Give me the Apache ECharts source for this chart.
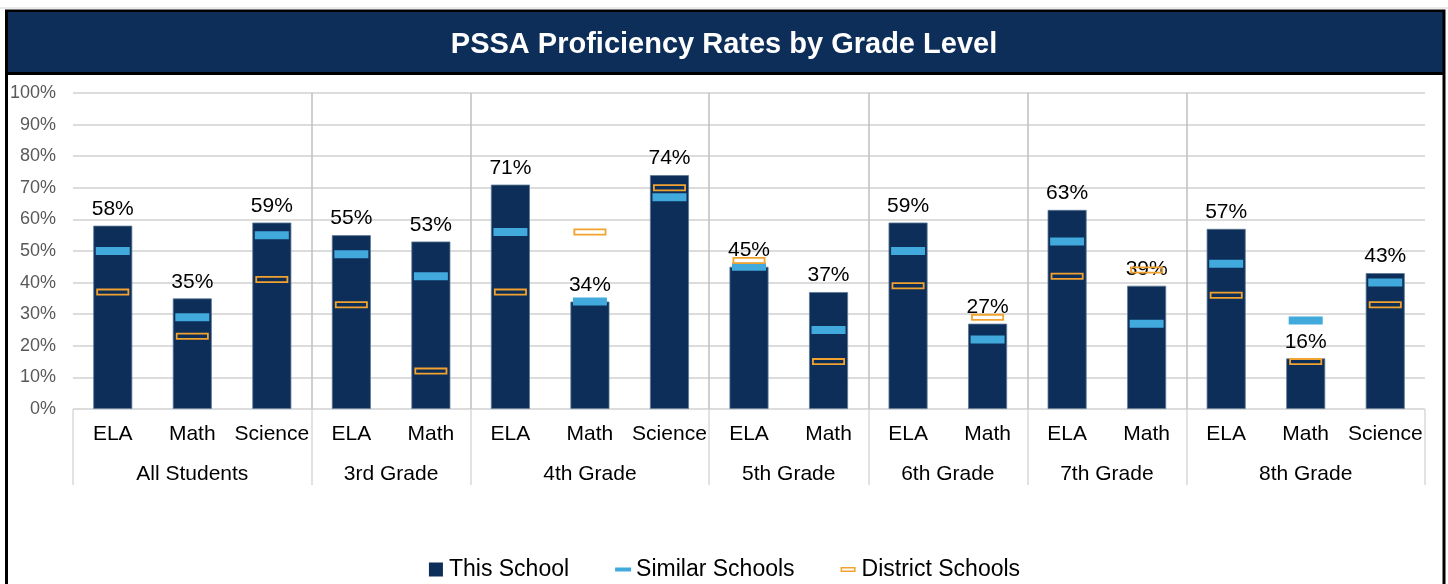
<!DOCTYPE html>
<html>
<head>
<meta charset="utf-8">
<script src="https://cdn.jsdelivr.net/npm/echarts@6/dist/echarts.min.js"></script>
<style>
  html, body { margin: 0; padding: 0; background: #fff; }
  #chart { width: 1448px; height: 584px; }
</style>
</head>
<body>
<div id="chart"></div>
<script>
// groups and the subjects under each one
const groups = ['All Students', '3rd Grade', '4th Grade', '5th Grade', '6th Grade', '7th Grade', '8th Grade'];
const groupSubjects = [
    ['ELA', 'Math', 'Science'],
    ['ELA', 'Math'],
    ['ELA', 'Math', 'Science'],
    ['ELA', 'Math'],
    ['ELA', 'Math'],
    ['ELA', 'Math'],
    ['ELA', 'Math', 'Science']
];

// values in percent, one per subject column
const thisSchool      = [58, 35, 59, 55, 53, 71, 34, 74, 45, 37, 59, 27, 63, 39, 57, 16, 43];
const similarSchools  = [50, 29, 55, 49, 42, 56, 34, 67, 45, 25, 50, 22, 53, 27, 46, 28, 40];
const districtSchools = [37, 23, 41, 33, 12, 37, 56, 70, 47, 15, 39, 29, 42, 44, 36, 15, 33];

const yMin = 0, yMax = 100, yStep = 10;

const NAVY = '#0d2e58';
const BLUE = '#41a9dc';
const ORANGE = '#f2a22e';
const FONT = 'Liberation Sans, Arial, sans-serif';

// hollow box drawn as a filled ring so the outline is not stretched by symbolSize
const HOLLOW_BOX = 'path://M0,0H33V7H0Z M1.8,1.8V5.2H31.2V1.8Z';

// flat list of subject columns
const subjects = [].concat(...groupSubjects);

// half-step axis used for group names and separators (2 points per column + 1)
const groupAxis = new Array(subjects.length * 2 + 1).fill('');
const boundaries = new Set();
let start = 0;
groupSubjects.forEach((subs, i) => {
    groupAxis[2 * start + subs.length] = groups[i];
    boundaries.add(2 * start);
    start += subs.length;
});
boundaries.add(2 * start);
const innerBoundaries = new Set([...boundaries].filter(k => k !== 0 && k !== 2 * start));

const chart = echarts.init(document.getElementById('chart'));

chart.setOption({
    backgroundColor: '#fff',
    animation: false,
    graphic: [
        { type: 'rect', silent: true, z: 0, shape: { x: 0, y: 7.5, width: 1448, height: 1 }, style: { fill: '#d8d8d8' } },
        { type: 'rect', silent: true, z: 0, shape: { x: 5, y: 9.5, width: 1440.5, height: 65.5 }, style: { fill: '#000' } },
        { type: 'rect', silent: true, z: 0, shape: { x: 8, y: 12, width: 1434.5, height: 60 }, style: { fill: NAVY } },
        { type: 'rect', silent: true, z: 0, shape: { x: 5, y: 75, width: 3, height: 520 }, style: { fill: '#000' } },
        { type: 'rect', silent: true, z: 0, shape: { x: 1442.5, y: 75, width: 3, height: 520 }, style: { fill: '#000' } }
    ],
    title: {
        text: 'PSSA Proficiency Rates by Grade Level',
        left: 'center',
        top: 25,
        textStyle: { color: '#fff', fontSize: 29, fontWeight: 'bold', fontFamily: FONT }
    },
    legend: {
        top: 553,
        left: 'center',
        itemWidth: 16,
        itemHeight: 14,
        itemGap: 46,
        textStyle: { fontSize: 23, color: '#000', fontFamily: FONT },
        data: [
            { name: 'This School', icon: 'path://M0,0M16,14M1,0H15V14H1Z', itemStyle: { color: NAVY, borderWidth: 0 } },
            { name: 'Similar Schools', icon: 'path://M0,0M16,14M0,5H16V9H0Z', itemStyle: { color: BLUE, borderWidth: 0 } },
            { name: 'District Schools', icon: 'path://M0,0M16,14M0,4.5H15V9.5H0Z M1.5,6V8H13.5V6Z',
              itemStyle: { color: ORANGE, borderWidth: 0 } }
        ]
    },
    grid: { left: 73, right: 23, top: 93, bottom: 175, containLabel: false, outerBoundsMode: 'none' },
    xAxis: [
        {
            type: 'category',
            data: subjects,
            axisLine: { show: false },
            axisTick: { show: false },
            splitLine: { show: false },
            axisLabel: { interval: 0, margin: 15, fontSize: 21, color: '#000', fontFamily: FONT }
        },
        {
            type: 'category',
            data: groupAxis,
            boundaryGap: false,
            position: 'bottom',
            axisLine: { show: false },
            axisTick: {
                show: true,
                length: 76,
                interval: (k) => boundaries.has(k),
                lineStyle: { color: '#d9d9d9', width: 1.5 }
            },
            splitLine: {
                show: true,
                interval: (k) => innerBoundaries.has(k),
                lineStyle: { color: '#bfbfbf', width: 1.5 }
            },
            axisLabel: {
                interval: (k) => groupAxis[k] !== '',
                margin: 55,
                fontSize: 21,
                color: '#000',
                fontFamily: FONT
            }
        }
    ],
    yAxis: {
        type: 'value',
        min: yMin,
        max: yMax,
        interval: yStep,
        axisLine: { show: false },
        axisTick: { show: false },
        splitLine: { lineStyle: { color: '#dcdcdc', width: 2 } },
        axisLabel: { formatter: '{value}%', margin: 17, fontSize: 18, color: '#595959', fontFamily: FONT }
    },
    series: [
        {
            name: 'This School',
            type: 'bar',
            xAxisIndex: 0,
            data: thisSchool,
            barWidth: 39,
            z: 2,
            itemStyle: { color: NAVY, borderColor: '#5d7896', borderWidth: 0.8 },
            label: {
                show: true,
                position: 'top',
                distance: 6,
                formatter: '{c}%',
                fontSize: 21,
                color: '#000',
                fontFamily: FONT
            }
        },
        {
            name: 'Similar Schools',
            type: 'scatter',
            xAxisIndex: 0,
            data: similarSchools,
            symbol: 'rect',
            symbolSize: [34, 8],
            z: 3,
            itemStyle: { color: BLUE, opacity: 1 }
        },
        {
            name: 'District Schools',
            type: 'scatter',
            xAxisIndex: 0,
            data: districtSchools,
            symbol: HOLLOW_BOX,
            symbolSize: [33, 7],
            symbolKeepAspect: false,
            z: 4,
            itemStyle: { color: ORANGE, opacity: 1 }
        }
    ]
});
</script>
</body>
</html>
